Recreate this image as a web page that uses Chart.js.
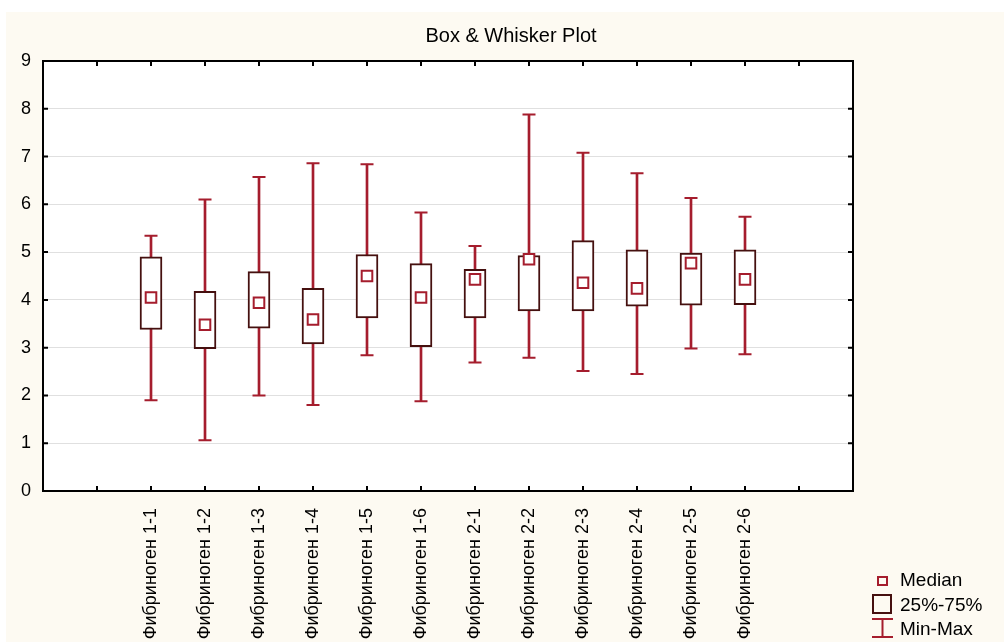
<!DOCTYPE html>
<html>
<head>
<meta charset="utf-8">
<script src="https://cdn.jsdelivr.net/npm/chart.js@4.4.1/dist/chart.umd.min.js"></script>
<style>
  html, body { margin: 0; padding: 0; background: #fff; }
  #wrap { position: relative; width: 1004px; height: 642px; }
  .lg-text { position: absolute; left: 900px; font: 19px "Liberation Sans", Arial, sans-serif; line-height: 19px; color: #000; white-space: nowrap; }
  .lg-icon { position: absolute; box-sizing: border-box; }
</style>
</head>
<body>
<div id="wrap">
  <canvas id="boxChart" width="1004" height="642"></canvas>
  <div class="lg-icon" style="left:877px;top:576px;width:11px;height:10px;border:2px solid #a51d2d;"></div>
  <div class="lg-text" style="top:570px">Median</div>
  <div class="lg-icon" style="left:872px;top:594px;width:20px;height:20px;border:2px solid #45100f;"></div>
  <div class="lg-text" style="top:595px">25%-75%</div>
  <svg class="lg-icon" style="left:871px;top:617px" width="23" height="22">
    <path d="M1 2H22M11.5 2V20M1 20H22" stroke="#a51d2d" stroke-width="2" fill="none"/>
  </svg>
  <div class="lg-text" style="top:619px">Min-Max</div>
</div>
<script>
const groups = [
  'Фибриноген 1-1', 'Фибриноген 1-2', 'Фибриноген 1-3', 'Фибриноген 1-4',
  'Фибриноген 1-5', 'Фибриноген 1-6', 'Фибриноген 2-1', 'Фибриноген 2-2',
  'Фибриноген 2-3', 'Фибриноген 2-4', 'Фибриноген 2-5', 'Фибриноген 2-6'
];
const mins    = [1.90, 1.06, 2.00, 1.80, 2.84, 1.88, 2.69, 2.79, 2.51, 2.45, 2.98, 2.86];
const q1      = [3.38, 2.98, 3.41, 3.08, 3.62, 3.02, 3.62, 3.77, 3.77, 3.87, 3.89, 3.90];
const medians = [4.05, 3.48, 3.94, 3.59, 4.50, 4.05, 4.43, 4.85, 4.36, 4.24, 4.77, 4.43];
const q3      = [4.90, 4.18, 4.59, 4.24, 4.95, 4.76, 4.64, 4.93, 5.24, 5.05, 4.98, 5.05];
const maxs    = [5.34, 6.10, 6.57, 6.86, 6.84, 5.83, 5.13, 7.88, 7.08, 6.65, 6.13, 5.74];
const yMin = 0, yMax = 9, yStep = 1;

const RED = '#a51d2d';
const DARK = '#45100f';
const CREAM = '#fdfaf2';
const FONT = '"Liberation Sans", Arial, sans-serif';

// two empty slots on each side of the groups
const pad = arr => [null, null, ...arr, null, null];
const labels = pad(groups).map(l => l || '');

// page background, white plot area, black frame with inward ticks
const framePlugin = {
  id: 'frame',
  beforeDraw(chart) {
    const { ctx, width, height, chartArea: a } = chart;
    ctx.save();
    ctx.fillStyle = '#fff';
    ctx.fillRect(0, 0, width, height);
    ctx.fillStyle = CREAM;
    ctx.fillRect(6, 12, width - 6, height - 12);
    ctx.fillStyle = '#fff';
    ctx.fillRect(a.left, a.top, a.right - a.left, a.bottom - a.top);
    ctx.restore();
  },
  afterDraw(chart) {
    const { ctx, chartArea: a } = chart;
    const x = chart.scales.x, y = chart.scales.y;
    const seg = (x1, y1, x2, y2) => { ctx.moveTo(x1, y1); ctx.lineTo(x2, y2); };
    ctx.save();
    ctx.strokeStyle = '#000';
    ctx.lineWidth = 2;
    ctx.beginPath();
    x.ticks.forEach((t, i) => {
      if (i === 0 || i === x.ticks.length - 1) return;
      const px = x.getPixelForTick(i);
      seg(px, a.top, px, a.top + 5);
      seg(px, a.bottom, px, a.bottom - 5);
    });
    y.ticks.forEach((t, i) => {
      const py = y.getPixelForTick(i);
      seg(a.left, py, a.left + 5, py);
      seg(a.right, py, a.right - 5, py);
    });
    ctx.stroke();
    ctx.strokeRect(a.left, a.top, a.right - a.left, a.bottom - a.top);
    ctx.restore();
  }
};

new Chart(document.getElementById('boxChart'), {
  type: 'bar',
  data: {
    labels: labels,
    datasets: [
      {
        label: 'Min-Max',
        data: pad(mins.map((v, i) => [v, maxs[i]])),
        backgroundColor: RED,
        barThickness: 2,
        grouped: false,
        order: 4
      },
      {
        label: '25%-75%',
        data: pad(q1.map((v, i) => [v, q3[i]])),
        backgroundColor: '#fff',
        borderColor: DARK,
        borderWidth: 2,
        borderSkipped: false,
        barThickness: 22,
        grouped: false,
        order: 3
      },
      {
        type: 'line',
        label: 'Max',
        data: pad(maxs),
        showLine: false,
        pointStyle: 'line',
        pointRadius: 6.5,
        pointBorderColor: RED,
        pointBorderWidth: 2,
        order: 2
      },
      {
        type: 'line',
        label: 'Min',
        data: pad(mins),
        showLine: false,
        pointStyle: 'line',
        pointRadius: 6.5,
        pointBorderColor: RED,
        pointBorderWidth: 2,
        order: 2
      },
      {
        type: 'line',
        label: 'Median',
        data: pad(medians),
        showLine: false,
        pointStyle: 'rect',
        pointRadius: 7.5,
        pointBackgroundColor: '#fff',
        pointBorderColor: RED,
        pointBorderWidth: 2,
        order: 1
      }
    ]
  },
  options: {
    responsive: false,
    animation: false,
    events: [],
    layout: { padding: { left: 18, top: 0, right: 0, bottom: 0 } },
    plugins: {
      legend: { display: false },
      tooltip: { enabled: false },
      title: {
        display: true,
        text: 'Box & Whisker Plot',
        color: '#000',
        font: { family: FONT, size: 20, weight: 'normal' },
        padding: { top: 24, bottom: 13 }
      }
    },
    scales: {
      x: {
        offset: false,
        grid: { display: false },
        border: { display: false },
        ticks: {
          autoSkip: false,
          minRotation: 90,
          maxRotation: 90,
          padding: 9,
          color: '#000',
          font: { family: FONT, size: 18 }
        },
        afterFit(s) { s.height = 151; }
      },
      y: {
        min: yMin,
        max: yMax,
        grid: { color: '#e0e0e0', drawTicks: false },
        border: { display: false },
        ticks: {
          stepSize: yStep,
          padding: 12,
          color: '#000',
          font: { family: FONT, size: 18 }
        },
        afterFit(s) { s.width = 25; }
      },
      y2: {
        position: 'right',
        grid: { drawOnChartArea: false, drawTicks: false },
        border: { display: false },
        ticks: { display: false },
        afterFit(s) { s.width = 151; }
      }
    }
  },
  plugins: [framePlugin]
});
</script>
</body>
</html>
